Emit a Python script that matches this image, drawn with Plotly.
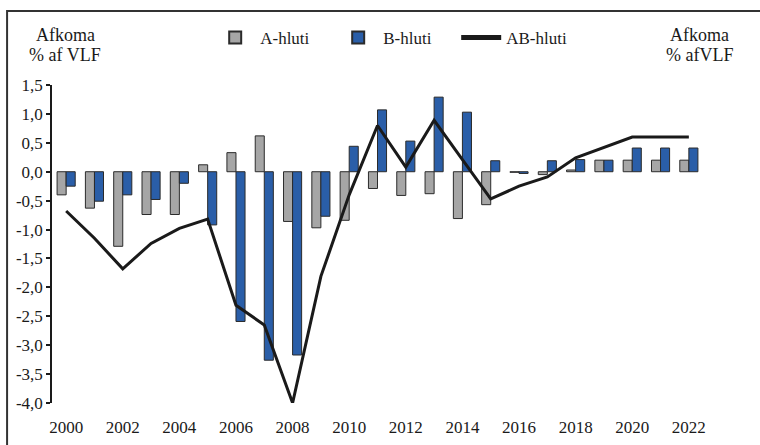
import plotly.graph_objects as go

years = list(range(2000, 2023))
a_hluti = [-0.40, -0.63, -1.29, -0.74, -0.74, 0.12, 0.33, 0.62, -0.86, -0.97,
           -0.84, -0.29, -0.41, -0.38, -0.81, -0.57, -0.01, -0.05, 0.03, 0.20,
           0.20, 0.20, 0.20]
b_hluti = [-0.25, -0.51, -0.40, -0.48, -0.20, -0.92, -2.59, -3.26, -3.17, -0.77,
           0.44, 1.07, 0.53, 1.29, 1.03, 0.19, -0.03, 0.19, 0.21, 0.20,
           0.41, 0.41, 0.41]
ab_hluti = [-0.68, -1.15, -1.68, -1.24, -0.98, -0.82, -2.31, -2.65, -4.00, -1.81,
            -0.40, 0.80, 0.08, 0.89, 0.21, -0.47, -0.25, -0.09, 0.24, 0.42,
            0.60, 0.60, 0.60]

ytick_vals = [1.5, 1.0, 0.5, 0.0, -0.5, -1.0, -1.5, -2.0, -2.5, -3.0, -3.5, -4.0]
ytick_text = ["1,5", "1,0", "0,5", "0,0", "-0,5", "-1,0", "-1,5", "-2,0", "-2,5",
              "-3,0", "-3,5", "-4,0"]
xtick_vals = years[::2]

FONT = "Liberation Serif"
GRAY = "#a6a6a6"
BLUE = "#2a5ea8"
EDGE = "#2b2b2b"

fig = go.Figure()
fig.add_trace(go.Bar(x=years, y=a_hluti, name="A-hluti",
                     marker=dict(color=GRAY, line=dict(color=EDGE, width=1))))
fig.add_trace(go.Bar(x=years, y=b_hluti, name="B-hluti",
                     marker=dict(color=BLUE, line=dict(color=EDGE, width=1))))
fig.add_trace(go.Scatter(x=years, y=ab_hluti, name="AB-hluti", mode="lines",
                         line=dict(color="#1a1a1a", width=3)))

yr = [-4.0, 1.5]
xr = [years[0] - 0.5, years[-1] + 0.5]
zero_pos = (0 - yr[0]) / (yr[1] - yr[0])

title_font = dict(family=FONT, size=18, color="#1a1a1a")

fig.update_layout(
    width=760, height=445,
    margin=dict(l=52, r=57, t=85, b=42, autoexpand=False),
    paper_bgcolor="white", plot_bgcolor="white",
    font=dict(family=FONT, size=17, color="#1a1a1a"),
    barmode="group", bargap=0.36, bargroupgap=0,
    showlegend=True,
    legend=dict(orientation="h", x=0.243, xanchor="left", y=1.148, yanchor="middle",
                entrywidth=68, entrywidthmode="pixels",
                font=dict(family=FONT, size=17), bgcolor="rgba(0,0,0,0)",
                itemsizing="constant", itemwidth=40),
    xaxis=dict(range=xr, tickvals=xtick_vals, ticks="", showline=False,
               showgrid=False, zeroline=False, tickfont=dict(size=17),
               ticklabelstandoff=12),
    xaxis2=dict(overlaying="x", anchor="free", position=zero_pos, range=xr,
                tick0=xr[0], dtick=1, ticks="outside", ticklen=5, tickwidth=1.2,
                tickcolor="#1a1a1a", showticklabels=False, showline=True,
                linecolor="#1a1a1a", linewidth=1.5, showgrid=False, zeroline=False),
    yaxis=dict(range=yr, tickvals=ytick_vals, ticktext=ytick_text, ticks="outside",
               ticklen=4, tickwidth=1.5, tickcolor="#1a1a1a", showline=True,
               linecolor="#1a1a1a", linewidth=1.5, showgrid=False, zeroline=False,
               tickfont=dict(size=17)),
    yaxis2=dict(overlaying="y", side="right", range=yr, tickvals=ytick_vals,
                ticktext=ytick_text, ticks="outside", ticklen=5, tickwidth=1.5,
                tickcolor="#1a1a1a", showline=True, linecolor="#1a1a1a",
                linewidth=1.5, showgrid=False, zeroline=False, tickfont=dict(size=17)),
    yaxis3=dict(overlaying="y", side="left", range=yr, tickvals=ytick_vals,
                ticks="inside", ticklen=3, tickwidth=1.5, tickcolor="#1a1a1a",
                showticklabels=False, showline=False, showgrid=False, zeroline=False),
    yaxis4=dict(overlaying="y", side="right", range=yr, tickvals=ytick_vals,
                ticks="inside", ticklen=5, tickwidth=1.5, tickcolor="#1a1a1a",
                showticklabels=False, showline=False, showgrid=False, zeroline=False),
    annotations=[
        dict(text="Afkoma", xref="paper", yref="paper", x=0.02, y=1.157,
             xanchor="center", yanchor="middle", showarrow=False, font=title_font),
        dict(text="% af VLF", xref="paper", yref="paper", x=0.02, y=1.094,
             xanchor="center", yanchor="middle", showarrow=False, font=title_font),
        dict(text="Afkoma", xref="paper", yref="paper", x=0.995, y=1.157,
             xanchor="center", yanchor="middle", showarrow=False, font=title_font),
        dict(text="% afVLF", xref="paper", yref="paper", x=0.995, y=1.094,
             xanchor="center", yanchor="middle", showarrow=False, font=title_font),
    ],
    shapes=[
        dict(type="rect", xref="paper", yref="paper", x0=-0.069, x1=1.1,
             y0=-0.16, y1=1.233, line=dict(color="#333333", width=2),
             fillcolor="rgba(0,0,0,0)", layer="above"),
    ],
)

fig.write_html(
    "out.html",
    config={"displayModeBar": False},
    post_script="document.body.style.margin='0px';document.body.style.overflow='hidden';",
)
